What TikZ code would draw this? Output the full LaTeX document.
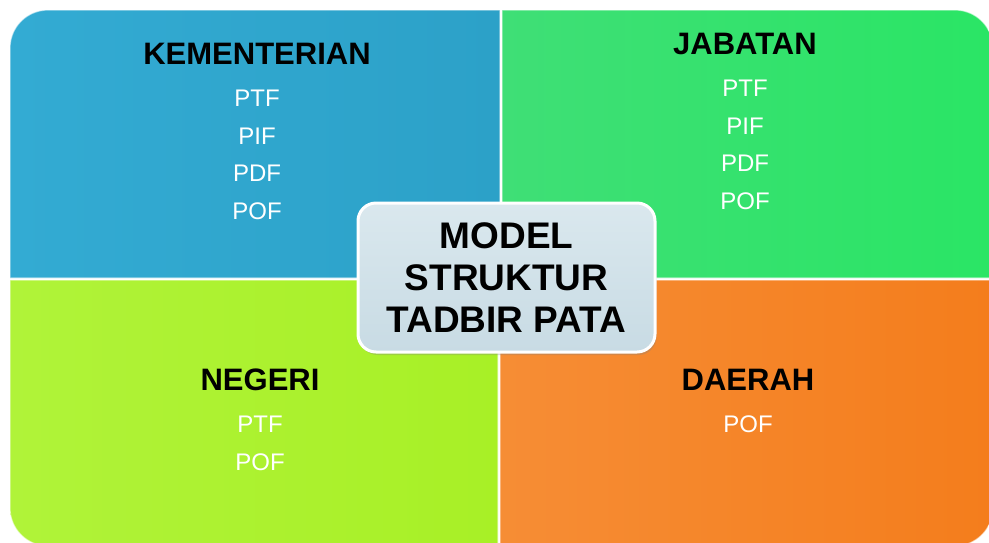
\documentclass[tikz,border=0pt]{standalone}
\usepackage{fontspec}
\setmainfont{Liberation Sans}
\usepackage{tikz}
\usetikzlibrary{positioning}
\usetikzlibrary{shadows}
\definecolor{kblue}{HTML}{33ABD3}
\definecolor{kbluedark}{HTML}{2CA1C8}
\definecolor{jgreen}{HTML}{3FDF76}
\definecolor{jgreendark}{HTML}{2AE565}
\definecolor{nlime}{HTML}{B0F339}
\definecolor{nlimedark}{HTML}{A8F026}
\definecolor{dorange}{HTML}{F68D35}
\definecolor{dorangedark}{HTML}{F47D1C}
\definecolor{boxtop}{HTML}{DAE8EE}
\definecolor{boxbottom}{HTML}{C8DBE4}
\tikzstyle{edge} = [draw=white, draw opacity=.55, line width=1.2pt]
\tikzstyle{title node} = [font=\fontsize{31}{36}\selectfont\bfseries, text=black]
\tikzstyle{item node} = [font=\fontsize{24}{28}\selectfont, text=white]

\begin{document}
\begin{tikzpicture}[x=1pt, y=-1pt,
                    node distance=37.5pt,
                    model node/.style={font=\fontsize{37}{42}\selectfont\bfseries,
                                       align=center, inner sep=0pt,
                                       minimum width=297pt, minimum height=149pt,
                                       rounded corners=18pt, draw=white, line width=3pt,
                                       top color=boxtop, bottom color=boxbottom,
                                       drop shadow={opacity=.3, shadow xshift=1.5pt, shadow yshift=-3pt}}]

  \useasboundingbox (0,0) rectangle (989,542);
  \clip (0,0) rectangle (989,542);

  % quadrants
  \path[edge, left color=kblue, right color=kbluedark]
    (500,278) -- (10,278) -- (10,48) arc (180:270:38) -- (500,10) -- cycle;
  \path[edge, left color=jgreen, right color=jgreendark]
    (502,278) -- (502,10) -- (955,10) arc (270:360:38) -- (993,278) -- cycle;
  \path[edge, left color=nlime, right color=nlimedark]
    (498,280) -- (10,280) -- (10,508) arc (180:90:38) -- (498,546) -- cycle;
  \path[edge, left color=dorange, right color=dorangedark]
    (500,280) -- (993,280) -- (993,508) arc (0:90:38) -- (500,546) -- cycle;

  % kementerian
  \node[title node] (1) at (257,54) {KEMENTERIAN};
  \node[item node] (2) [below of=1, node distance=44.5pt] {PTF};
  \node[item node] (3) [below of=2] {PIF};
  \node[item node] (4) [below of=3] {PDF};
  \node[item node] (5) [below of=4] {POF};

  % jabatan
  \node[title node] (6) at (745,44) {JABATAN};
  \node[item node] (7) [below of=6, node distance=44.5pt] {PTF};
  \node[item node] (8) [below of=7] {PIF};
  \node[item node] (9) [below of=8] {PDF};
  \node[item node] (10) [below of=9] {POF};

  % negeri
  \node[title node] (11) at (260,380) {NEGERI};
  \node[item node] (12) [below of=11, node distance=44.5pt] {PTF};
  \node[item node] (13) [below of=12] {POF};

  % daerah
  \node[title node] (14) at (748,380) {DAERAH};
  \node[item node] (15) [below of=14, node distance=44.5pt] {POF};

  \node[model node] (16) at (506.5,277.5) {MODEL\\STRUKTUR\\TADBIR PATA};

\end{tikzpicture}
\end{document}
